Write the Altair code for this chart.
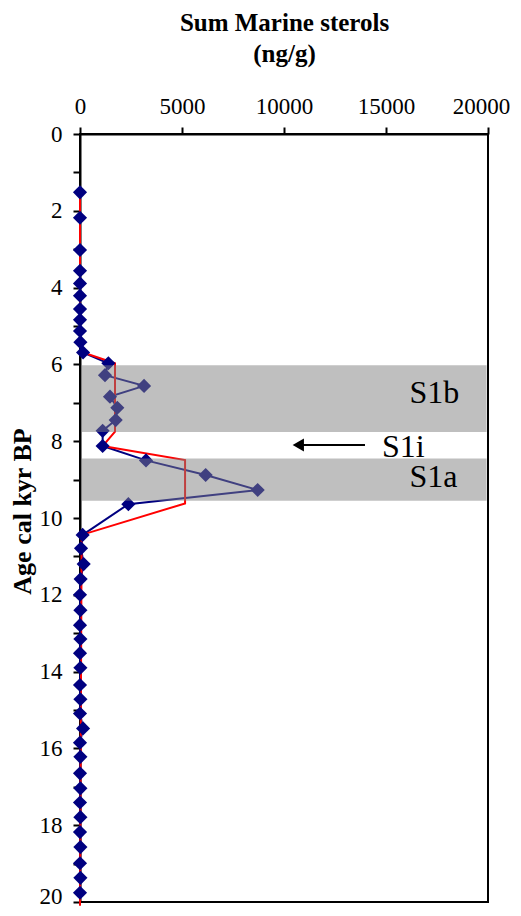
import altair as alt
import pandas as pd

# ---- data ----
age = [1.52, 2.18, 3.02, 3.56, 3.89, 4.21, 4.56, 4.84, 5.13, 5.42, 5.69, 5.97,
       6.28, 6.56, 6.84, 7.13, 7.45, 7.73, 8.125, 8.50, 8.88, 9.27, 9.64, 10.44,
       10.79, 11.20, 11.59, 12.00, 12.40, 12.79, 13.15, 13.52, 13.90, 14.35, 14.72,
       15.09, 15.48, 15.85, 16.22, 16.65, 17.04, 17.41, 17.79, 18.18, 18.57, 18.99,
       19.37, 19.76]
sterols = [0, 0, 0, 0, 0, 0, 0, 0, 0, 20, 150, 1390,
           1225, 3140, 1470, 1830, 1750, 1110, 1110, 3235, 6160, 8710, 2370, 130,
           50, 180, 30, 0, 20, 0, 20, 0, 20, 0, 20,
           0, 150, 0, 20, 0, 20, 0, 20, 0, 20, 0,
           20, 0]

mean_age = [1.52, 5.42, 5.69, 5.97, 7.75, 8.125, 8.49, 9.62, 10.44, 20.1]
mean_val = [0, 0, 150, 1716, 1716, 1110, 5150, 5150, 80, 0]

band_name = ["S1b", "S1a"]
band_top = [6.02, 8.45]
band_bottom = [7.76, 9.55]

label_text = ["S1b", "S1i", "S1a"]
label_val = [16150, 14800, 16150]
label_age = [7.0, 8.40, 9.18]

arrow_age = 8.1
arrow_from = 13970
arrow_to = 10700

x_ticks = [0, 5000, 10000, 15000, 20000]
y_ticks = list(range(0, 21))

FONT = "Liberation Serif"

df = pd.DataFrame({"age": age, "value": sterols})
df_mean = pd.DataFrame({"age": mean_age, "value": mean_val})
df_band = pd.DataFrame({"name": band_name, "age": band_top, "age2": band_bottom,
                        "value": [60] * 2, "value2": [19930] * 2})
df_lab = pd.DataFrame({"text": label_text, "value": label_val, "age": label_age})
df_arrow = pd.DataFrame({"age": [arrow_age], "value": [arrow_to], "value2": [arrow_from]})

xscale = alt.Scale(domain=[0, 20000], nice=False, zero=False)
yscale = alt.Scale(domain=[0, 20], nice=False, zero=False, reverse=True)

xaxis = alt.Axis(orient="top", values=x_ticks, format="d", grid=False,
                 title=["Sum Marine sterols", "(ng/g)"],
                 titleFont=FONT, titleFontSize=25, titleFontWeight="bold",
                 titleColor="black", titleAlign="center", titleBaseline="alphabetic",
                 titleX=204, titleY=-104, titleLineHeight=31,
                 labelFont=FONT, labelFontSize=23, labelColor="black",
                 labelPadding=9, labelFlush=False, labelOverlap=False,
                 labelOffset=alt.condition("datum.value == 20000", alt.value(-7), alt.value(0)),
                 tickSize=7, tickWidth=2, tickColor="black",
                 domainColor="black", domainWidth=2)
yaxis = alt.Axis(orient="left", values=y_ticks, grid=False,
                 labelExpr="datum.value % 2 === 0 ? datum.label : ''",
                 title="Age cal kyr BP",
                 titleFont=FONT, titleFontSize=26, titleFontWeight="bold",
                 titleColor="black", titleAngle=270, titleAlign="center",
                 titleBaseline="middle", titleX=-58, titleY=377,
                 labelFont=FONT, labelFontSize=23, labelColor="black",
                 labelPadding=11, labelOverlap=False,
                 labelOffset=alt.condition("datum.value == 20", alt.value(-6), alt.value(0)),
                 tickSize=7, tickWidth=2, tickColor="black",
                 domainColor="black", domainWidth=2)


def X():
    return alt.X("value:Q", scale=xscale, axis=xaxis)


def Y():
    return alt.Y("age:Q", scale=yscale, axis=yaxis)


blue_line = alt.Chart(df).mark_line(color="#000080", strokeWidth=2).encode(
    x=X(), y=Y(), order="age:Q")
red_line = alt.Chart(df_mean).mark_line(color="#ff0000", strokeWidth=2).encode(
    x=X(), y=Y(), order="age:Q")
points = alt.Chart(df).mark_point(shape="diamond", filled=True, size=200,
                                  color="#000080", opacity=1).encode(x=X(), y=Y())
bands = alt.Chart(df_band).mark_rect(color="#808080", opacity=0.5).encode(
    x=X(), x2="value2:Q", y=Y(), y2="age2:Q")
labels = alt.Chart(df_lab).mark_text(font=FONT, fontSize=32, color="black",
                                     align="left", baseline="alphabetic").encode(
    x=X(), y=Y(), text="text:N")
arrow_line = alt.Chart(df_arrow).mark_rule(color="black", strokeWidth=2).encode(
    x=X(), x2="value2:Q", y=Y())
arrow_head = alt.Chart(df_arrow).mark_point(shape="triangle-left", filled=True,
                                            size=170, color="black", opacity=1).encode(
    x=X(), y=Y())

chart = alt.layer(blue_line, red_line, points, bands, labels, arrow_line, arrow_head).properties(
    width=408, height=768,
    autosize=alt.AutoSizeParams(type="none"),
    padding={"left": 72, "top": 126, "right": 25, "bottom": 6},
).configure_view(stroke="black", strokeWidth=2)

chart.save("out.html", embed_options={"renderer": "svg", "actions": False})
